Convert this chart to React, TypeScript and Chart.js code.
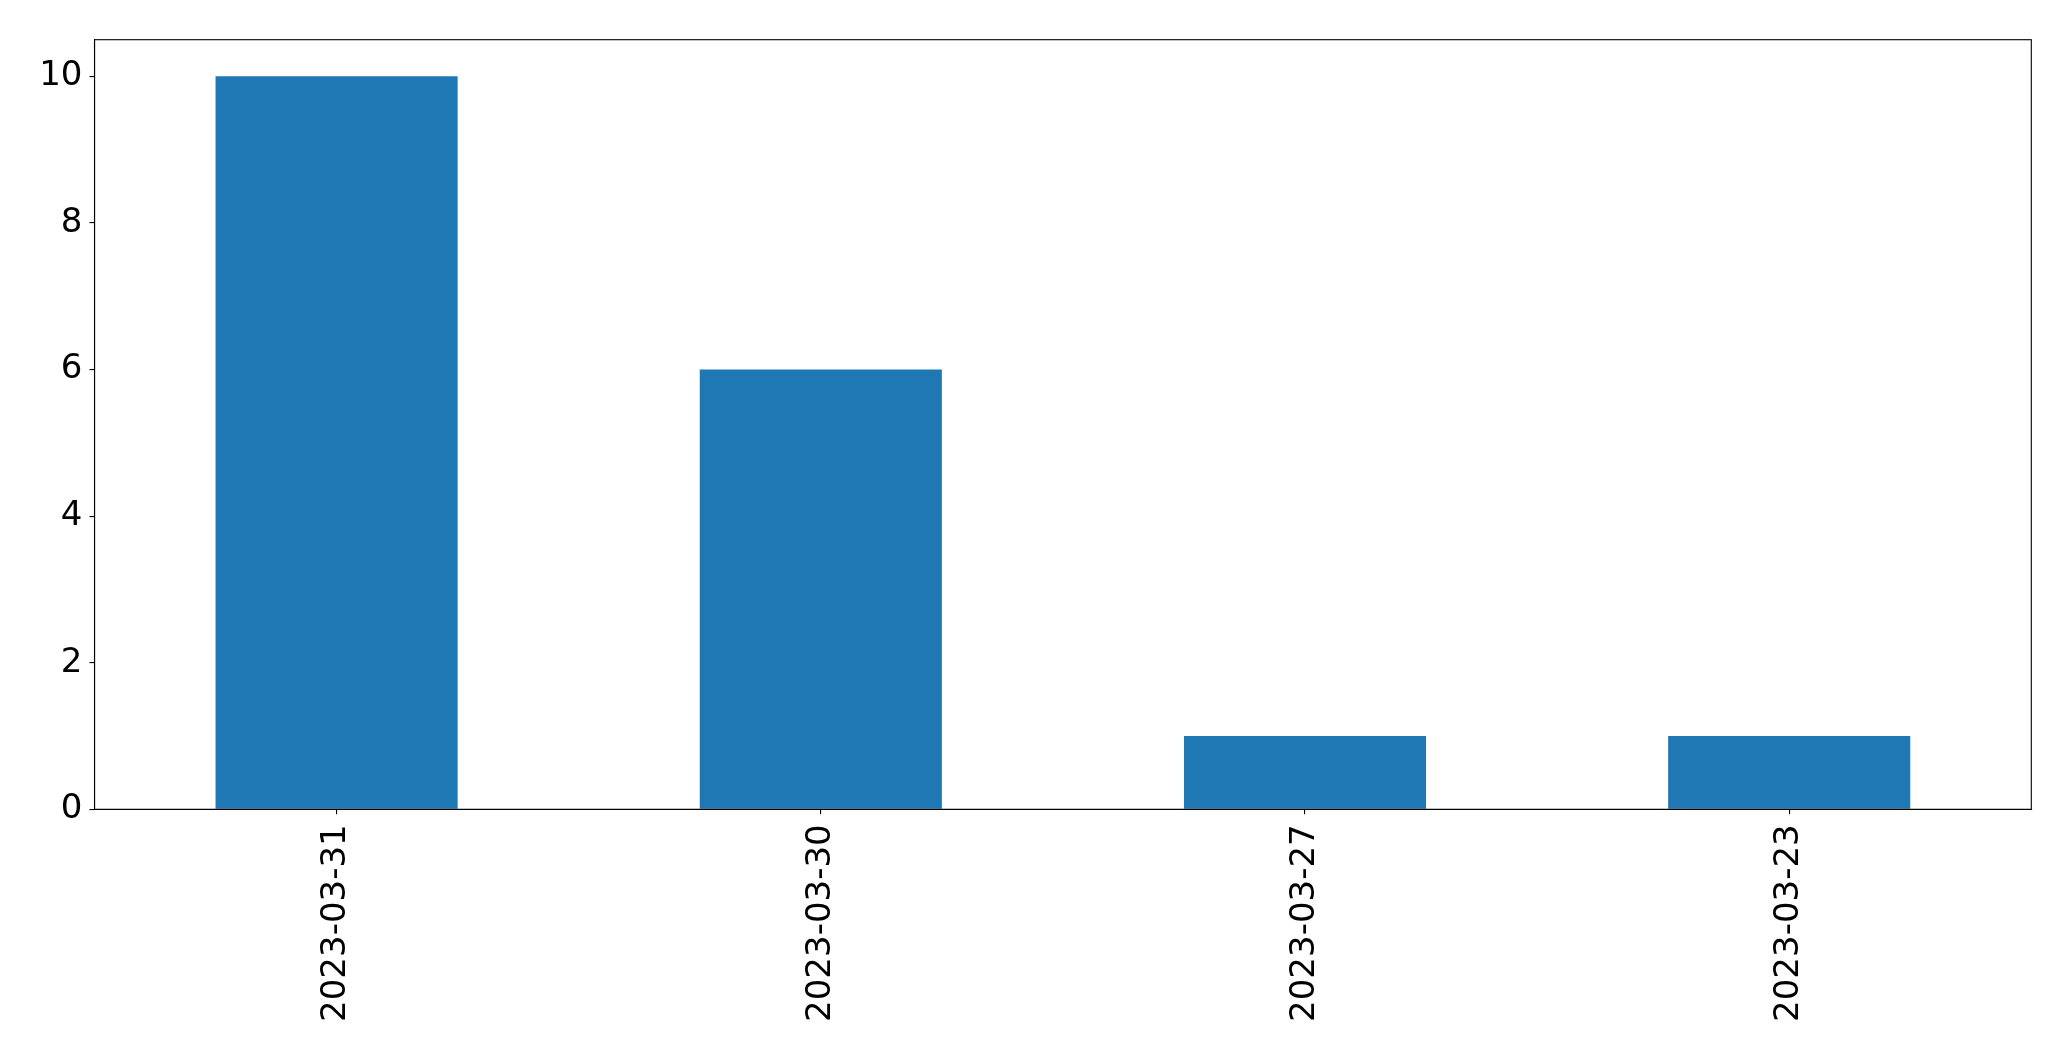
import React, { useEffect, useRef } from "react";
import { Chart, registerables } from "chart.js";

Chart.register(...registerables);

const categories = ["2023-03-31", "2023-03-30", "2023-03-27", "2023-03-23"];
const counts = [10, 6, 1, 1];
const yTicks = [0, 2, 4, 6, 8, 10];

const W = 2071;
const H = 1061;
const PLOT_LEFT = 94.5;
const PLOT_TOP = 39.7;
const PLOT_RIGHT = 2031.3;
const PLOT_BOTTOM = 809.3;

const framePlugin = {
  id: "frame",
  afterDraw(chart: any) {
    const { ctx, chartArea } = chart;
    ctx.save();
    ctx.strokeStyle = "#000";
    ctx.lineWidth = 1.1;
    ctx.strokeRect(chartArea.left, chartArea.top, chartArea.right - chartArea.left, chartArea.bottom - chartArea.top);
    ctx.restore();
  },
};

export default function App() {
  const ref = useRef<HTMLCanvasElement | null>(null);
  useEffect(() => {
    if (!ref.current) return;
    const font = { family: "'DejaVu Sans', sans-serif", size: 34 };
    const chart = new Chart(ref.current, {
      type: "bar",
      data: {
        labels: categories,
        datasets: [
          {
            data: counts,
            backgroundColor: "#1f77b4",
            borderWidth: 0,
            categoryPercentage: 1,
            barPercentage: 0.5,
          },
        ],
      },
      options: {
        animation: false,
        responsive: false,
        maintainAspectRatio: false,
        devicePixelRatio: 1,
        layout: {
          padding: { left: 0, top: PLOT_TOP, right: W - PLOT_RIGHT, bottom: 0 },
        },
        plugins: { legend: { display: false }, tooltip: { enabled: false } },
        scales: {
          x: {
            type: "category",
            offset: true,
            grid: { display: true, drawOnChartArea: false, drawTicks: true, tickLength: 5, color: "#000", lineWidth: 1.1, offset: false },
            border: { display: true, color: "#000", width: 1.1 },
            ticks: { color: "#000", font, minRotation: 90, maxRotation: 90, padding: 10, autoSkip: false },
            afterFit(scale: any) {
              scale.height = H - PLOT_BOTTOM;
            },
          },
          y: {
            type: "linear",
            min: 0,
            max: 10.5,
            grid: { display: true, drawOnChartArea: false, drawTicks: true, tickLength: 5, color: "#000", lineWidth: 1.1 },
            border: { display: true, color: "#000", width: 1.1 },
            ticks: { color: "#000", font, padding: 7 },
            afterBuildTicks(scale: any) {
              scale.ticks = yTicks.map((v) => ({ value: v }));
            },
            afterFit(scale: any) {
              scale.width = PLOT_LEFT;
            },
          },
        },
      },
      plugins: [framePlugin],
    });
    return () => chart.destroy();
  }, []);
  return (
    <div style={{ position: "fixed", left: 0, top: 0, width: W, height: H, background: "#fff" }}>
      <canvas ref={ref} width={W} height={H} style={{ width: W, height: H, display: "block" }} />
    </div>
  );
}
